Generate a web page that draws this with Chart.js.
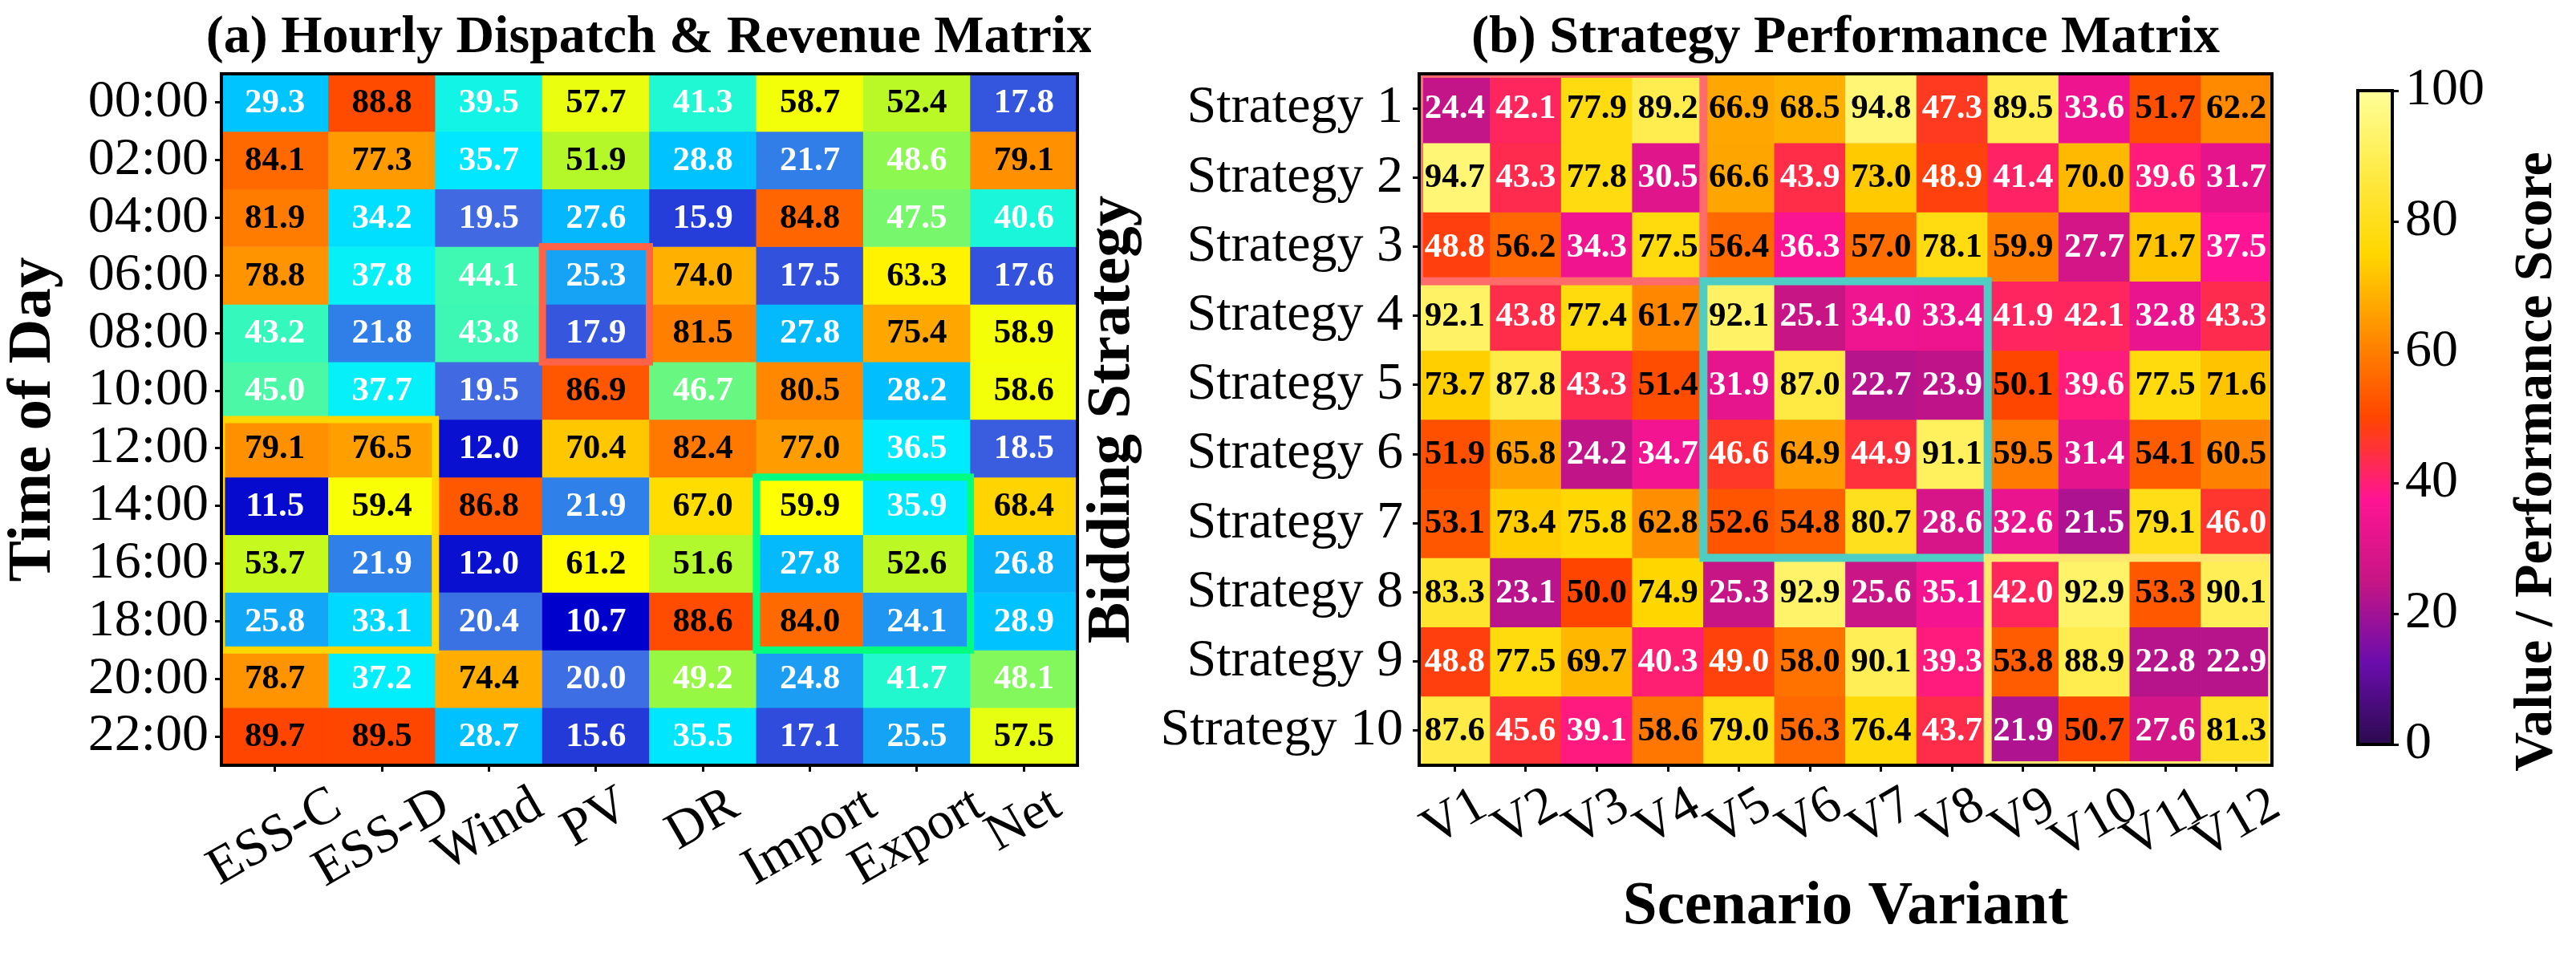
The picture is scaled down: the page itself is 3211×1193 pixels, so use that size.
<!DOCTYPE html>
<html>
<head>
<meta charset="utf-8">
<script src="https://cdn.jsdelivr.net/npm/chart.js@4.4.1/dist/chart.umd.min.js"></script>
<style>
  html, body { margin: 0; padding: 0; background: #fff; }
  body { width: 3211px; height: 1193px; position: relative; overflow: hidden; }
  canvas { position: absolute; top: 0; }
</style>
</head>
<body>
<canvas id="dispatchChart" width="1360" height="1193" style="left:0px"></canvas>
<canvas id="strategyChart" width="1535" height="1193" style="left:1345px"></canvas>
<canvas id="scaleChart" width="331" height="1193" style="left:2880px"></canvas>
<script>
// ---- panel (a) data ----
const hours = ['00:00', '02:00', '04:00', '06:00', '08:00', '10:00',
               '12:00', '14:00', '16:00', '18:00', '20:00', '22:00'];
const flows = ['ESS-C', 'ESS-D', 'Wind', 'PV', 'DR', 'Import', 'Export', 'Net'];
const dispatchValues = [
  [29.3, 88.8, 39.5, 57.7, 41.3, 58.7, 52.4, 17.8],
  [84.1, 77.3, 35.7, 51.9, 28.8, 21.7, 48.6, 79.1],
  [81.9, 34.2, 19.5, 27.6, 15.9, 84.8, 47.5, 40.6],
  [78.8, 37.8, 44.1, 25.3, 74.0, 17.5, 63.3, 17.6],
  [43.2, 21.8, 43.8, 17.9, 81.5, 27.8, 75.4, 58.9],
  [45.0, 37.7, 19.5, 86.9, 46.7, 80.5, 28.2, 58.6],
  [79.1, 76.5, 12.0, 70.4, 82.4, 77.0, 36.5, 18.5],
  [11.5, 59.4, 86.8, 21.9, 67.0, 59.9, 35.9, 68.4],
  [53.7, 21.9, 12.0, 61.2, 51.6, 27.8, 52.6, 26.8],
  [25.8, 33.1, 20.4, 10.7, 88.6, 84.0, 24.1, 28.9],
  [78.7, 37.2, 74.4, 20.0, 49.2, 24.8, 41.7, 48.1],
  [89.7, 89.5, 28.7, 15.6, 35.5, 17.1, 25.5, 57.5]
];

// ---- panel (b) data ----
const strategies = ['Strategy 1', 'Strategy 2', 'Strategy 3', 'Strategy 4', 'Strategy 5',
                    'Strategy 6', 'Strategy 7', 'Strategy 8', 'Strategy 9', 'Strategy 10'];
const variants = ['V1', 'V2', 'V3', 'V4', 'V5', 'V6', 'V7', 'V8', 'V9', 'V10', 'V11', 'V12'];
const strategyValues = [
  [24.4, 42.1, 77.9, 89.2, 66.9, 68.5, 94.8, 47.3, 89.5, 33.6, 51.7, 62.2],
  [94.7, 43.3, 77.8, 30.5, 66.6, 43.9, 73.0, 48.9, 41.4, 70.0, 39.6, 31.7],
  [48.8, 56.2, 34.3, 77.5, 56.4, 36.3, 57.0, 78.1, 59.9, 27.7, 71.7, 37.5],
  [92.1, 43.8, 77.4, 61.7, 92.1, 25.1, 34.0, 33.4, 41.9, 42.1, 32.8, 43.3],
  [73.7, 87.8, 43.3, 51.4, 31.9, 87.0, 22.7, 23.9, 50.1, 39.6, 77.5, 71.6],
  [51.9, 65.8, 24.2, 34.7, 46.6, 64.9, 44.9, 91.1, 59.5, 31.4, 54.1, 60.5],
  [53.1, 73.4, 75.8, 62.8, 52.6, 54.8, 80.7, 28.6, 32.6, 21.5, 79.1, 46.0],
  [83.3, 23.1, 50.0, 74.9, 25.3, 92.9, 25.6, 35.1, 42.0, 92.9, 53.3, 90.1],
  [48.8, 77.5, 69.7, 40.3, 49.0, 58.0, 90.1, 39.3, 53.8, 88.9, 22.8, 22.9],
  [87.6, 45.6, 39.1, 58.6, 79.0, 56.3, 76.4, 43.7, 21.9, 50.7, 27.6, 81.3]
];
const scoreTicks = [0, 20, 40, 60, 80, 100];

// ---- styling ----
const SERIF = '"Liberation Serif", "Times New Roman", serif';
const TICK_SIZE = 66;
const LABEL_SIZE = 77;

// colour stops (value -> colour)
const jetStops = [
  [10.7, '#0000CD'], [19.5, '#4169E1'], [28.3, '#00BFFF'], [37.0, '#00EEFF'],
  [41.5, '#20F8D0'], [45.5, '#50F8A0'], [49.0, '#95F845'], [53.0, '#C0F820'],
  [57.6, '#E8FF10'], [60.0, '#FFFF00'], [63.0, '#FFF500'], [68.0, '#FFD700'],
  [76.5, '#FFA000'], [80.0, '#FF8C00'], [84.0, '#FF6A00'], [89.7, '#FF4500']
];
const fireStops = [
  [0, '#2B0A4F'], [12.5, '#6A0DAD'], [25, '#C71585'], [37.5, '#FF1493'],
  [50, '#FF4500'], [62.5, '#FF8C00'], [75, '#FFD700'], [87.5, '#FFEA45'], [100, '#FFFF99']
];

// highlighted blocks [first row, last row], [first col, last col]
const dispatchBoxes = [
  { rows: [3, 4], cols: [3, 3], color: '#FF6347' },
  { rows: [6, 9], cols: [0, 1], color: '#FFD700' },
  { rows: [7, 9], cols: [5, 6], color: '#00FF7F' }
];
const strategyBoxes = [
  { rows: [0, 2], cols: [0, 3], color: '#FF6B6B' },
  { rows: [3, 6], cols: [4, 7], color: '#4ECDC4' },
  { rows: [7, 9], cols: [8, 11], color: '#FFE66D' }
];

function hexToRgb(h) {
  const n = parseInt(h.slice(1), 16);
  return [(n >> 16) & 255, (n >> 8) & 255, n & 255];
}

function colorAt(stops, v) {
  if (v <= stops[0][0]) return stops[0][1];
  for (let i = 1; i < stops.length; i++) {
    if (v <= stops[i][0]) {
      const t = (v - stops[i - 1][0]) / (stops[i][0] - stops[i - 1][0]);
      const a = hexToRgb(stops[i - 1][1]), b = hexToRgb(stops[i][1]);
      return 'rgb(' + a.map((x, k) => Math.round(x + (b[k] - x) * t)).join(',') + ')';
    }
  }
  return stops[stops.length - 1][1];
}

// one floating-bar dataset per matrix row, every bar is one cell
function cellDatasets(cols, values, stops) {
  return values.map((row, r) => ({
    data: row.map((v, c) => ({ x: cols[c], y: [r, r + 1], v: v })),
    backgroundColor: ctx => ctx.raw ? colorAt(stops, ctx.raw.v) : '#000',
    borderWidth: 0,
    grouped: false,
    barPercentage: 1,
    categoryPercentage: 1
  }));
}

function heatmapPlugin(opts) {
  return {
    id: 'heatmap',
    afterDatasetsDraw(chart) {
      const ctx = chart.ctx;
      const a = chart.chartArea;
      ctx.save();
      ctx.font = 'bold 43px ' + SERIF;
      ctx.textAlign = 'center';
      ctx.textBaseline = 'middle';
      chart.data.datasets.forEach((ds, d) => {
        chart.getDatasetMeta(d).data.forEach((el, c) => {
          const v = ds.data[c].v;
          const p = el.getCenterPoint();
          ctx.fillStyle = v < 50 ? '#ffffff' : '#000000';
          ctx.fillText(v.toFixed(1), p.x, p.y + 1);
        });
      });
      // highlight boxes, clipped to the axes
      ctx.beginPath();
      ctx.rect(a.left, a.top, a.width, a.height);
      ctx.clip();
      opts.boxes.forEach(b => {
        const e0 = chart.getDatasetMeta(b.rows[0]).data[b.cols[0]];
        const e1 = chart.getDatasetMeta(b.rows[1]).data[b.cols[1]];
        const x0 = e0.x - e0.width / 2, x1 = e1.x + e1.width / 2;
        const y0 = Math.min(e0.y, e0.base), y1 = Math.max(e1.y, e1.base);
        ctx.strokeStyle = b.color;
        ctx.lineWidth = opts.boxWidth;
        ctx.strokeRect(x0, y0, x1 - x0, y1 - y0);
      });
      ctx.restore();
      // axes frame
      ctx.save();
      ctx.strokeStyle = '#000';
      ctx.lineWidth = 4;
      ctx.strokeRect(a.left, a.top, a.width, a.height);
      ctx.restore();
    },
    afterDraw(chart) {
      const ctx = chart.ctx;
      const a = chart.chartArea;
      const xs = chart.scales.x;
      const th = opts.rotation * Math.PI / 180;
      ctx.save();
      ctx.fillStyle = '#000';
      ctx.font = TICK_SIZE + 'px ' + SERIF;
      opts.xLabels.forEach((lab, i) => {
        const w = ctx.measureText(lab).width;
        const h = TICK_SIZE * 0.95;
        const H = w * Math.sin(th) + h * Math.cos(th);
        ctx.save();
        ctx.translate(xs.getPixelForTick(i), a.bottom + 18 + H / 2);
        ctx.rotate(-th);
        ctx.textAlign = 'center';
        ctx.textBaseline = 'middle';
        ctx.fillText(lab, 0, 0);
        ctx.restore();
      });
      ctx.font = 'bold 66px ' + SERIF;
      ctx.textAlign = 'center';
      ctx.textBaseline = 'alphabetic';
      ctx.fillText(opts.title, (a.left + a.right) / 2, 65);
      ctx.restore();
    }
  };
}

function heatmapConfig(o) {
  return {
    type: 'bar',
    data: { labels: o.cols, datasets: cellDatasets(o.cols, o.values, o.stops) },
    options: {
      responsive: false,
      animation: false,
      devicePixelRatio: 1,
      layout: { padding: { left: 0, top: 92, right: o.padRight, bottom: 0 } },
      plugins: { legend: { display: false }, tooltip: { enabled: false } },
      scales: {
        x: {
          type: 'category',
          offset: true,
          grid: { offset: false, drawOnChartArea: false, tickLength: 8, tickWidth: 3, tickColor: '#000' },
          border: { display: false },
          ticks: { display: false },
          title: o.xTitle ? {
            display: true, text: o.xTitle, color: '#000',
            font: { family: SERIF, size: LABEL_SIZE, weight: 'bold', lineHeight: 1.2 },
            padding: { top: 0, bottom: 16 }
          } : { display: false },
          afterFit: s => { s.height = 239; }
        },
        y: {
          type: 'linear',
          min: 0,
          max: o.rows.length,
          reverse: true,
          afterBuildTicks: s => { s.ticks = o.rows.map((r, i) => ({ value: i + 0.5 })); },
          afterFit: s => { s.width = o.yWidth; },
          ticks: {
            autoSkip: false,
            callback: (v, i) => o.rows[i],
            color: '#000',
            font: { family: SERIF, size: TICK_SIZE },
            padding: o.tickPad
          },
          grid: { drawOnChartArea: false, tickLength: 8, tickWidth: 3, tickColor: '#000' },
          border: { display: false },
          title: {
            display: true, text: o.yTitle, color: '#000',
            font: { family: SERIF, size: LABEL_SIZE, weight: 'bold', lineHeight: 1.1 },
            padding: { top: o.yTitlePad, bottom: 0 }
          }
        }
      }
    },
    plugins: [heatmapPlugin({ boxes: o.boxes, boxWidth: o.boxWidth, xLabels: o.cols, rotation: 30, title: o.title })]
  };
}

new Chart(document.getElementById('dispatchChart'), heatmapConfig({
  rows: hours, cols: flows, values: dispatchValues, stops: jetStops, boxes: dispatchBoxes,
  title: '(a) Hourly Dispatch & Revenue Matrix', yTitle: 'Time of Day', xTitle: null,
  yWidth: 276, padRight: 17, tickPad: 8, yTitlePad: 0, boxWidth: 9
}));

new Chart(document.getElementById('strategyChart'), heatmapConfig({
  rows: strategies, cols: variants, values: strategyValues, stops: fireStops, boxes: strategyBoxes,
  title: '(b) Strategy Performance Matrix', yTitle: 'Bidding Strategy', xTitle: 'Scenario Variant',
  yWidth: 424, padRight: 48, tickPad: 12, yTitlePad: 0, boxWidth: 10
}));

// colour bar for panel (b)
new Chart(document.getElementById('scaleChart'), {
  type: 'bar',
  data: {
    labels: [''],
    datasets: [{
      data: [[scoreTicks[0], scoreTicks[scoreTicks.length - 1]]],
      backgroundColor: c => {
        const ch = c.chart, ys = ch.scales.y;
        if (!ch.chartArea || !ys) return '#000';
        const g = ch.ctx.createLinearGradient(0, ys.getPixelForValue(0), 0, ys.getPixelForValue(100));
        fireStops.forEach(([v, col]) => g.addColorStop(v / 100, col));
        return g;
      },
      borderWidth: 0,
      barPercentage: 1,
      categoryPercentage: 1
    }]
  },
  options: {
    responsive: false,
    animation: false,
    devicePixelRatio: 1,
    layout: { padding: { left: 59, top: 113, right: 0, bottom: 265 } },
    plugins: { legend: { display: false }, tooltip: { enabled: false } },
    scales: {
      x: { display: false },
      y: {
        position: 'right',
        min: 0,
        max: 100,
        afterBuildTicks: s => { s.ticks = scoreTicks.map(v => ({ value: v })); },
        afterFit: s => { s.width = 229; },
        ticks: { color: '#000', font: { family: SERIF, size: TICK_SIZE }, padding: 8 },
        grid: { drawOnChartArea: false, tickLength: 8, tickWidth: 3, tickColor: '#000' },
        border: { display: false }
      }
    }
  },
  plugins: [{
    id: 'barFrame',
    afterDraw(chart) {
      const ctx = chart.ctx, a = chart.chartArea;
      ctx.save();
      ctx.strokeStyle = '#000';
      ctx.lineWidth = 4;
      ctx.strokeRect(a.left, a.top, a.width, a.height);
      ctx.translate(300, (a.top + a.bottom) / 2 + 55);
      ctx.rotate(-Math.PI / 2);
      ctx.fillStyle = '#000';
      ctx.font = 'bold 68px ' + SERIF;
      ctx.textAlign = 'center';
      ctx.textBaseline = 'alphabetic';
      ctx.fillText('Value / Performance Score', 0, 0);
      ctx.restore();
    }
  }]
});
</script>
</body>
</html>
